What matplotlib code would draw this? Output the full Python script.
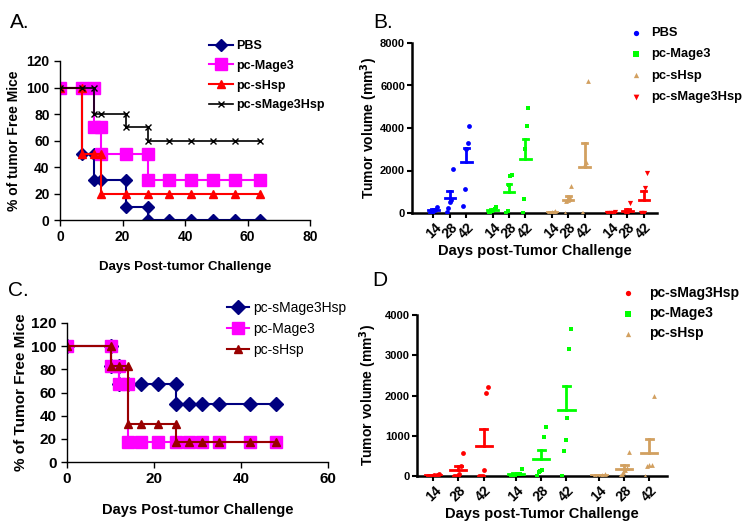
import numpy as np
import matplotlib
matplotlib.use("Agg")
import matplotlib.pyplot as plt

plt.rcParams['font.family'] = ['Liberation Sans', 'DejaVu Sans']

# ---------------- Panel A data ----------------
a_pbs_x = [0, 7, 7, 11, 11, 13, 21, 21, 28, 28, 35, 42, 49, 56, 64]
a_pbs_y = [100, 100, 50, 50, 30, 30, 30, 10, 10, 0, 0, 0, 0, 0, 0]
a_mage_x = [0, 7, 11, 11, 13, 13, 21, 28, 28, 35, 42, 49, 56, 64]
a_mage_y = [100, 100, 100, 70, 70, 50, 50, 50, 30, 30, 30, 30, 30, 30]
a_shsp_x = [0, 7, 7, 11, 13, 13, 21, 28, 35, 42, 49, 56, 64]
a_shsp_y = [100, 100, 50, 50, 50, 20, 20, 20, 20, 20, 20, 20, 20]
a_combo_x = [0, 7, 11, 11, 13, 21, 21, 28, 28, 35, 42, 49, 56, 64]
a_combo_y = [100, 100, 100, 80, 80, 80, 70, 70, 60, 60, 60, 60, 60, 60]

# ---------------- Panel C data ----------------
c_combo_x = [0, 10, 10, 12, 12, 14, 17, 21, 25, 25, 28, 31, 35, 42, 48]
c_combo_y = [100, 100, 83, 83, 67, 67, 67, 67, 67, 50, 50, 50, 50, 50, 50]
c_mage_x = [0, 10, 10, 12, 12, 14, 14, 17, 21, 25, 28, 31, 35, 42, 48]
c_mage_y = [100, 100, 83, 83, 67, 67, 17, 17, 17, 17, 17, 17, 17, 17, 17]
c_shsp_x = [0, 10, 10, 12, 14, 14, 17, 21, 25, 25, 28, 31, 35, 42, 48]
c_shsp_y = [100, 100, 83, 83, 83, 33, 33, 33, 33, 17, 17, 17, 17, 17, 17]

# ---------------- Panel B data (tumor volume, mm3) ----------------
days = ["14", "28", "42"]
b_pbs = [[300, 150, 100, 50, 0], [2050, 600, 500, 250, 50], [4100, 3300, 3000, 1150, 350]]
b_mage = [[300, 200, 150, 100, 50, 0], [1800, 1750, 1300, 100, 0], [4950, 4100, 3000, 650, 0]]
b_shsp = [[100, 50, 30, 0, 0], [1250, 700, 650, 600, 550, 0], [6200, 2400, 2300, 0, 0]]
b_combo = [[50, 20, 0, 0, 0], [450, 100, 50, 0, 0, 0], [1900, 1200, 0, 0, 0]]

# ---------------- Panel D data ----------------
d_combo = [[60, 30, 20, 10, 0, 0], [570, 250, 50, 0, 0, 0], [2200, 2050, 150, 0, 0, 0]]
d_mage = [[170, 60, 40, 20, 0, 0], [1220, 980, 150, 120, 100, 0], [3650, 3150, 1450, 900, 630, 0]]
d_shsp = [[60, 30, 10, 0, 0], [600, 200, 150, 100, 50, 0], [2000, 280, 270, 250, 0]]

W, H = 747, 525
fig = plt.figure(figsize=(W / 100, H / 100), dpi=100)


def fax(l, r, top, bot):
    return fig.add_axes([l / W, 1 - bot / H, (r - l) / W, (bot - top) / H])


def fig_legend(ax, x_px, y_px, **kw):
    # place legend's upper-left corner at figure pixel coords
    return ax.legend(loc='upper left', bbox_to_anchor=(x_px / W, 1 - y_px / H),
                     bbox_transform=fig.transFigure, frameon=False, borderaxespad=0,
                     borderpad=0, **kw)


def excel_style(ax, size=10):
    for s in ['top', 'right']:
        ax.spines[s].set_visible(False)
    for s in ['left', 'bottom']:
        ax.spines[s].set_linewidth(1.0)
    ax.tick_params(direction='out', length=4, width=1, labelsize=size)
    for lab in ax.get_xticklabels() + ax.get_yticklabels():
        lab.set_fontweight('bold')


# ---------- Panel A ----------
axA = fax(60, 310, 61, 220)
axA.plot(a_pbs_x, a_pbs_y, color='#000080', marker='D', ms=6.5, lw=1.5, label='PBS')
axA.plot(a_mage_x, a_mage_y, color='#FF00FF', marker='s', ms=8, lw=1.5, label='pc-Mage3')
axA.plot(a_shsp_x, a_shsp_y, color='#FF0000', marker='^', ms=5.5, lw=1.5, label='pc-sHsp')
axA.plot(a_combo_x, a_combo_y, color='#000000', marker='x', ms=4, mew=1, lw=1.2, label='pc-sMage3Hsp')
axA.set_xlim(0, 80)
axA.set_ylim(0, 120)
axA.set_xticks([0, 20, 40, 60, 80])
axA.set_yticks([0, 20, 40, 60, 80, 100, 120])
axA.set_ylabel('% of tumor Free Mice', fontsize=10, fontweight='bold')
axA.set_xlabel('Days Post-tumor Challenge', fontsize=9.5, fontweight='bold', labelpad=12)
excel_style(axA)
fig_legend(axA, 209, 40, handlelength=1.9, handletextpad=0.3, labelspacing=0.62,
           prop={'weight': 'bold', 'size': 9})
fig.text(10 / W, 1 - 22 / H, 'A.', fontsize=15, va='center')

# ---------- Panel C ----------
axC = fax(67, 328, 323, 462)
axC.plot(c_combo_x, c_combo_y, color='#000080', marker='D', ms=7.5, lw=1.5, label='pc-sMage3Hsp')
axC.plot(c_mage_x, c_mage_y, color='#FF00FF', marker='s', ms=9, lw=1.5, label='pc-Mage3')
axC.plot(c_shsp_x, c_shsp_y, color='#990000', marker='^', ms=6, lw=1.5, label='pc-sHsp')
axC.set_xlim(0, 60)
axC.set_ylim(0, 120)
axC.set_xticks([0, 20, 40, 60])
axC.set_yticks([0, 20, 40, 60, 80, 100, 120])
axC.set_ylabel('% of Tumor Free Mice', fontsize=11, fontweight='bold')
axC.yaxis.set_label_coords(-0.15, 0.5)
axC.set_xlabel('Days Post-tumor Challenge', fontsize=10.5, fontweight='bold', labelpad=12)
excel_style(axC, 11)
fig_legend(axC, 227, 301, handlelength=1.6, handletextpad=0.3, labelspacing=0.5,
           prop={'size': 10})
fig.text(8 / W, 1 - 290 / H, 'C.', fontsize=15, va='center')


# ---------- scatter helper ----------
def scatter_panel(ax, groups, positions, colors, markers, sizes, labels):
    k = 0
    for g, col, mk, sz, lab in zip(groups, colors, markers, sizes, labels):
        for j, vals in enumerate(g):
            p = positions[k]
            k += 1
            vals = np.array(vals, dtype=float)
            n = len(vals)
            offs = np.linspace(-0.22, 0.22, n) if n > 1 else np.zeros(1)
            order = np.argsort(vals)
            xs = p + offs[np.argsort(order)] * (1 if j == 0 else 0.8)
            ax.scatter(xs, vals, s=sz, marker=mk, color=col, lw=0, zorder=3,
                       label=lab if j == 0 else None)
            m = vals.mean()
            sem = vals.std(ddof=1) / np.sqrt(n)
            ax.plot([p - 0.32, p + 0.32], [m, m], color=col, lw=2, zorder=4)
            ax.plot([p, p], [m, m + sem], color=col, lw=2, zorder=4)
            ax.plot([p - 0.15, p + 0.15], [m + sem, m + sem], color=col, lw=2, zorder=4)


def prism_style(ax):
    for s in ['top', 'right']:
        ax.spines[s].set_visible(False)
    for s in ['left', 'bottom']:
        ax.spines[s].set_linewidth(1.8)
    ax.tick_params(direction='out', length=3.5, width=1.5, labelsize=8, pad=1.5)
    for lab in ax.get_yticklabels():
        lab.set_fontweight('bold')
    for lab in ax.get_xticklabels():
        lab.set_fontweight('bold')
        lab.set_rotation(45)
        lab.set_fontsize(10)


# ---------- Panel B ----------
axB = fax(412, 657, 43, 213)
posB = [0, 1, 2, 3.6, 4.6, 5.6, 7.2, 8.2, 9.2, 10.8, 11.8, 12.8]
scatter_panel(axB, [b_pbs, b_mage, b_shsp, b_combo], posB,
              ['#0000FF', '#00FF00', '#D2A060', '#FF0000'],
              ['o', 's', '^', 'v'], [12, 12, 12, 14],
              ['PBS', 'pc-Mage3', 'pc-sHsp', 'pc-sMage3Hsp'])
axB.set_xlim(-1.3, 13.6)
axB.set_ylim(0, 8000)
axB.set_yticks([0, 2000, 4000, 6000, 8000])
axB.set_xticks(posB)
axB.set_xticklabels(days * 4)
axB.set_ylabel('Tumor volume (mm$^\\mathbf{3}$)', fontsize=10, fontweight='bold')
axB.yaxis.set_label_coords(-0.13, 0.5)
axB.set_xlabel('Days post-Tumor Challenge', fontsize=10.5, fontweight='bold', labelpad=2)
prism_style(axB)
fig_legend(axB, 628, 27, handletextpad=0.6, handlelength=1.2, labelspacing=0.72, markerscale=1.1,
           prop={'weight': 'bold', 'size': 9.3})
fig.text(373 / W, 1 - 22 / H, 'B.', fontsize=15, va='center')

# ---------- Panel D ----------
axD = fax(417, 667, 315, 476)
posD = [0, 1, 2, 3.3, 4.3, 5.3, 6.6, 7.6, 8.6]
scatter_panel(axD, [d_combo, d_mage, d_shsp], posD,
              ['#FF0000', '#00FF00', '#D2A060'],
              ['o', 's', '^'], [12, 12, 12],
              ['pc-sMag3Hsp', 'pc-Mage3', 'pc-sHsp'])
axD.set_xlim(-0.65, 9.3)
axD.set_ylim(0, 4000)
axD.set_yticks([0, 1000, 2000, 3000, 4000])
axD.set_xticks(posD)
axD.set_xticklabels(days * 3)
axD.set_ylabel('Tumor volume (mm$^\\mathbf{3}$)', fontsize=10, fontweight='bold')
axD.yaxis.set_label_coords(-0.15, 0.5)
axD.set_xlabel('Days post-Tumor Challenge', fontsize=10.5, fontweight='bold', labelpad=2)
prism_style(axD)
fig_legend(axD, 620, 286, handletextpad=0.9, handlelength=1.2, labelspacing=0.45, markerscale=1.1,
           prop={'weight': 'bold', 'size': 10})
fig.text(372 / W, 1 - 280 / H, 'D', fontsize=15, va='center')

fig.savefig('out.png', dpi=100)
